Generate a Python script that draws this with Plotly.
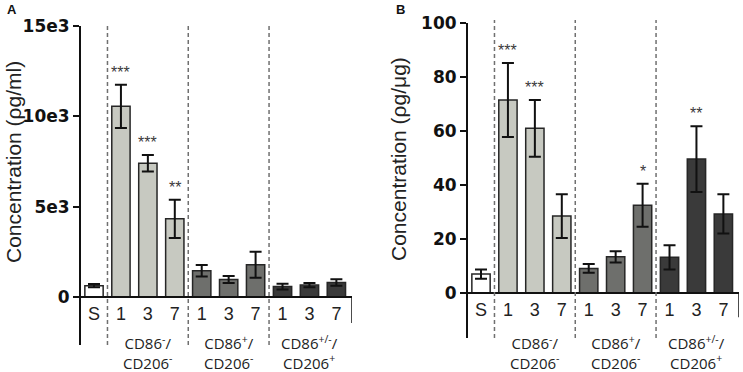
import plotly.graph_objects as go

# ---------------- data ----------------
categories = ["S", "1", "3", "7", "1", "3", "7", "1", "3", "7"]
group_labels = ["CD86<sup>-</sup>/<br>CD206<sup>-</sup>",
                "CD86<sup>+</sup>/<br>CD206<sup>-</sup>",
                "CD86<sup>+/-</sup>/<br>CD206<sup>+</sup>"]

valuesA = [620, 10550, 7400, 4320, 1450, 960, 1780, 570, 650, 800]
errorsA = [90, 1200, 460, 1060, 320, 190, 720, 160, 120, 180]
starsA = ["", "***", "***", "**", "", "", "", "", "", ""]
ticksA = [0, 5000, 10000, 15000]
tickTextA = ["0", "5e3", "10e3", "15e3"]

valuesB = [7.0, 71.5, 61.0, 28.5, 9.1, 13.4, 32.5, 13.2, 49.6, 29.3]
errorsB = [1.7, 13.7, 10.5, 8.1, 1.6, 2.1, 8.0, 4.5, 12.2, 7.3]
starsB = ["", "***", "***", "", "", "", "*", "", "**", ""]
ticksB = [0, 20, 40, 60, 80, 100]

fills = ["#ffffff"] + ["#c7c9c1"] * 3 + ["#6e6f6c"] * 3 + ["#3a3a3a"] * 3

W, H = 743, 372
def px(y):
    return (H - y) / H

fig = go.Figure()

panels = [
    dict(vals=valuesA, errs=errorsA, stars=starsA, xa="x", ya="y",
         xdom=[80 / W, 352 / W], ydom=[px(345), px(26)], yr=[-2667, 15000],
         ticks=ticksA, ticktext=tickTextA, zero=px(297),
         title="Concentration (ρg/ml)", tx=14, ty=162, letter="A", lx=12,
         endtick=-1450),
    dict(vals=valuesB, errs=errorsB, stars=starsB, xa="x2", ya="y2",
         xdom=[467 / W, 739 / W], ydom=[px(338), px(23)], yr=[-16.67, 100],
         ticks=ticksB, ticktext=[str(t) for t in ticksB], zero=px(293),
         title="Concentration (ρg/μg)", tx=399, ty=159, letter="B", lx=400,
         endtick=-9),
]

xs = list(range(len(categories)))
xr = [-0.52, 9.58]

for i, p in enumerate(panels):
    fig.add_trace(go.Bar(
        x=xs, y=p["vals"], xaxis=p["xa"], yaxis=p["ya"],
        width=0.68, marker=dict(color=fills, line=dict(color="#262626", width=1.5)),
        error_y=dict(type="data", array=p["errs"], color="#111111", thickness=2, width=6),
        showlegend=False, hoverinfo="skip"))
    sfx = "" if i == 0 else "2"
    fig.layout["xaxis" + sfx] = dict(
        domain=p["xdom"], range=xr, anchor="free", position=p["zero"],
        showline=True, linecolor="#111111", linewidth=2, ticks="",
        tickvals=xs, ticktext=categories, showgrid=False, zeroline=False,
        automargin=False,
        tickfont=dict(family="Liberation Sans, Arial", size=18, color="#222222"),
        fixedrange=True)
    fig.layout["yaxis" + sfx] = dict(
        domain=p["ydom"], range=p["yr"], anchor="free", position=p["xdom"][0],
        showline=True, linecolor="#111111", linewidth=2, ticks="outside",
        ticklen=6, tickwidth=2, tickcolor="#111111", automargin=False,
        tickvals=p["ticks"], ticktext=p["ticktext"], showgrid=False, zeroline=False,
        tickfont=dict(family="DejaVu Sans", size=17, color="#111111",
                      weight="bold"),
        fixedrange=True)
    # dashed separators
    for xv in [0.5, 3.5, 6.5]:
        fig.add_shape(type="line", xref=p["xa"], yref="paper",
                      x0=xv, x1=xv, y0=p["ydom"][0], y1=px(24 if i == 0 else 20),
                      line=dict(color="#707070", width=1.5, dash="4px,3px"))
    # end tick at right of x axis
    fig.add_shape(type="line", xref=p["xa"], yref=p["ya"],
                  x0=xr[1], x1=xr[1], y0=0, y1=p["endtick"],
                  line=dict(color="#111111", width=1.5))
    # stars
    for xv, v, e, s in zip(xs, p["vals"], p["errs"], p["stars"]):
        if s:
            fig.add_annotation(x=xv, y=v + e, xref=p["xa"], yref=p["ya"], text=s,
                               showarrow=False, yanchor="bottom", yshift=2,
                               font=dict(family="Liberation Sans, Arial", size=16,
                                         color="#3a3a3a"))
    # group labels
    for gx, gl in zip([2, 5, 8], group_labels):
        fig.add_annotation(x=gx, y=px(352), xref=p["xa"], yref="paper", text=gl,
                           showarrow=False, yanchor="middle", xanchor="center",
                           font=dict(family="Open Sans, Liberation Sans", size=15,
                                     color="#222222"))
    # y title
    fig.add_annotation(x=p["tx"] / W, y=px(p["ty"]), xref="paper", yref="paper",
                       text=p["title"], textangle=-90, showarrow=False,
                       xanchor="center", yanchor="middle",
                       font=dict(family="Liberation Sans, Arial", size=21,
                                 color="#222222"))
    # panel letter
    fig.add_annotation(x=p["lx"] / W, y=px(10), xref="paper", yref="paper",
                       text="<b>" + p["letter"] + "</b>", showarrow=False,
                       xanchor="center", yanchor="middle",
                       font=dict(family="Liberation Sans, Arial", size=13,
                                 color="#111111"))

fig.update_layout(width=W, height=H, margin=dict(l=0, r=0, t=0, b=0),
                  paper_bgcolor="white", plot_bgcolor="white", bargap=0.3)

fig.write_html("out.html", config={"displayModeBar": False},
               post_script="document.body.style.margin='0';document.body.style.overflow='hidden';")
